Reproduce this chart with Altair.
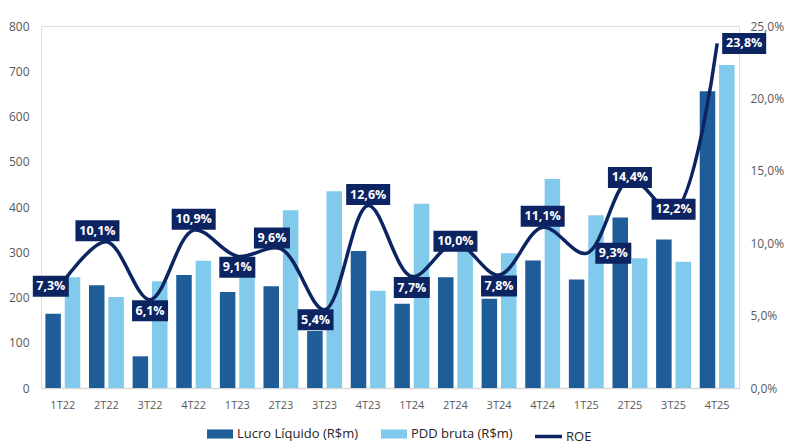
import altair as alt
import pandas as pd

# ---- dados ----
trimestres = ["1T22", "2T22", "3T22", "4T22", "1T23", "2T23", "3T23", "4T23",
              "1T24", "2T24", "3T24", "4T24", "1T25", "2T25", "3T25", "4T25"]
lucro_liquido = [164, 227, 70, 250, 212, 225, 126, 303, 186, 245, 197, 282, 240, 377, 328, 656]
pdd_bruta = [245, 201, 236, 281, 252, 393, 435, 215, 407, 303, 298, 462, 382, 287, 279, 714]
roe_pct = [7.3, 10.1, 6.1, 10.9, 9.1, 9.6, 5.4, 12.6, 7.7, 10.0, 7.8, 11.1, 9.3, 14.4, 12.2, 23.8]
posicao_rotulo = ["esquerda", "acima-esq", "abaixo", "acima", "abaixo", "acima-esq", "abaixo-esq", "acima",
                  "abaixo", "centro", "abaixo", "acima", "direita", "centro", "centro", "direita"]

serie_lucro = "Lucro Líquido (R$m)"
serie_pdd = "PDD bruta (R$m)"

COR_LUCRO = "#1F5D99"
COR_PDD = "#82CAEB"
COR_ROE = "#0C2461"
COR_TEXTO = "#595959"
FONTE = "Open Sans"

# deslocamento (px) de cada tipo de posição de rótulo
desloc = {
    "acima": (0, -11), "acima-esq": (-9, -11), "abaixo": (0, 11), "abaixo-esq": (-9, 10),
    "centro": (0, -2), "direita": (27, 0), "esquerda": (-12, 4),
}

barras = pd.DataFrame(
    [{"tri": t, "serie": serie_lucro, "valor": v} for t, v in zip(trimestres, lucro_liquido)]
    + [{"tri": t, "serie": serie_pdd, "valor": v} for t, v in zip(trimestres, pdd_bruta)]
)

linhas = []
for t, r, p in zip(trimestres, roe_pct, posicao_rotulo):
    txt = f"{r:.1f}".replace(".", ",") + "%"
    dx, dy = desloc[p]
    w = 8 * len(txt) + 4
    h = 21
    caixa = f"M{dx - w / 2},{dy - h / 2}H{dx + w / 2}V{dy + h / 2}H{dx - w / 2}Z"
    linhas.append({"tri": t, "roe": r / 100, "rotulo": txt, "pos": p, "caixa": caixa, "nome": "ROE"})
roe_df = pd.DataFrame(linhas)

x_enc = alt.X(
    "tri:N", sort=trimestres,
    scale=alt.Scale(paddingInner=0.2, paddingOuter=0.1),
    axis=alt.Axis(title=None, labelAngle=0, ticks=False, domainColor="#D9D9D9", domainWidth=1.5,
                  labelPadding=11, labelColor=COR_TEXTO, labelFontSize=11, labelFont=FONTE),
)

bars = alt.Chart(barras).mark_bar().encode(
    x=x_enc,
    xOffset=alt.XOffset("serie:N", sort=[serie_lucro, serie_pdd],
                        scale=alt.Scale(paddingInner=0.2, paddingOuter=0)),
    y=alt.Y("valor:Q", scale=alt.Scale(domain=[0, 800]),
            axis=alt.Axis(title=None, values=list(range(0, 801, 100)), grid=False, domain=False,
                          ticks=False, labelPadding=12, labelColor=COR_TEXTO, labelFontSize=12,
                          labelFont=FONTE)),
    color=alt.Color("serie:N", sort=[serie_lucro, serie_pdd],
                    scale=alt.Scale(domain=[serie_lucro, serie_pdd], range=[COR_LUCRO, COR_PDD]),
                    legend=alt.Legend(orient="none", legendX=166, legendY=395, title=None,
                                      direction="horizontal",
                                      symbolType="M-1,-0.35H1V0.35H-1Z", symbolSize=676,
                                      symbolStrokeWidth=0, labelFontSize=13, labelFont=FONTE,
                                      labelColor="#262626", columnPadding=22, labelOffset=4)),
)

y_roe = alt.Y("roe:Q", scale=alt.Scale(domain=[0, 0.25]),
              axis=alt.Axis(orient="right", title=None, values=[0, 0.05, 0.1, 0.15, 0.2, 0.25],
                            labelExpr="replace(format(datum.value, '.1%'), '.', ',')",
                            grid=False, domain=False, ticks=False, labelPadding=11,
                            labelColor=COR_TEXTO, labelFontSize=12, labelFont=FONTE))

base = alt.Chart(roe_df)

line = base.mark_line(interpolate="catmull-rom", strokeWidth=3.5).encode(
    x=x_enc, y=y_roe,
    stroke=alt.Stroke("nome:N", scale=alt.Scale(domain=["ROE"], range=[COR_ROE]),
                      legend=alt.Legend(orient="none", legendX=492, legendY=395, title=None,
                                        symbolType="stroke",
                                        symbolSize=729, symbolStrokeWidth=3.5, labelFontSize=13,
                                        labelFont=FONTE, labelColor="#262626", labelOffset=2)),
)

boxes = base.mark_point(filled=True, size=4, opacity=1, color=COR_ROE, strokeWidth=0).encode(
    x=x_enc, y=y_roe,
    shape=alt.Shape("caixa:N", scale=None),
)

texts = []
for p, (dx, dy) in desloc.items():
    if p not in posicao_rotulo:
        continue
    texts.append(
        base.transform_filter(alt.datum.pos == p).mark_text(
            dx=dx, dy=dy, color="white", fontWeight="bold", fontSize=12.5, font=FONTE,
            baseline="middle", align="center",
        ).encode(x=x_enc, y=y_roe, text="rotulo:N")
    )

roe_layer = alt.layer(line, boxes, *texts)

chart = alt.layer(bars, roe_layer).resolve_scale(y="independent").properties(
    width=698, height=362,
    padding={"left": 0, "top": 12, "right": 5, "bottom": 0},
).configure_view(stroke=None).configure(font=FONTE)

chart.save("out.html", embed_options={"renderer": "svg", "actions": False})
